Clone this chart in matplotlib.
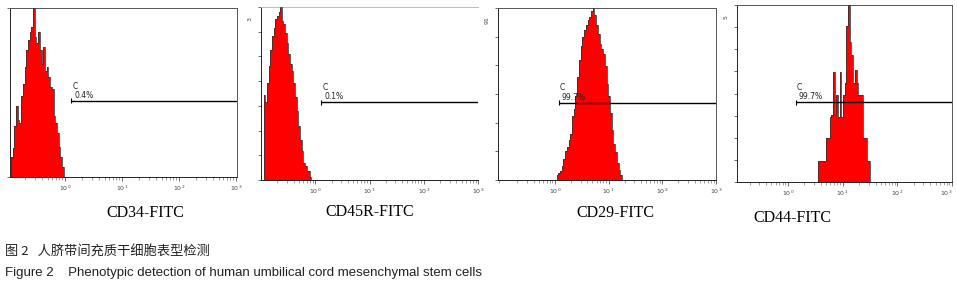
import numpy as np
import matplotlib
matplotlib.use('Agg')
import matplotlib.pyplot as plt
from matplotlib.ticker import LogLocator, FixedLocator, NullFormatter

# histogram counts per log-spaced channel (relative units)
cd34_range = (-0.95, -0.02)
cd34_counts = [12, 17, 30, 42, 34, 32, 48, 55, 65, 75, 81, 86, 89, 100, 83, 79,
               86, 75, 67, 77, 63, 65, 59, 53, 52, 36, 32, 26, 18, 12, 6]

cd45_range = (-0.95, -0.07)
cd45_counts = [49, 45, 56, 66, 75, 83, 88, 93, 95, 97, 100, 92, 90, 85, 79, 73,
               67, 63, 56, 48, 40, 31, 23, 17, 10, 8, 5, 5, 2]

cd29_range = (0.03, 1.25)
cd29_counts = [3, 4, 5, 8, 12, 17, 19, 23, 27, 37, 41, 49, 60, 70, 78, 83, 87,
               90, 93, 95, 98, 100, 96, 90, 85, 79, 76, 73, 66, 56, 49, 39, 29,
               21, 16, 10, 6, 3]

cd44_range = (0.55, 1.50)
cd44_counts = [12, 12, 12, 12, 12, 25, 25, 37, 38, 62, 38, 49, 37, 62, 37, 49,
               56, 88, 100, 79, 72, 56, 63, 56, 49, 49, 49, 25, 25, 12, 12]

markers = ["CD34-FITC", "CD45R-FITC", "CD29-FITC", "CD44-FITC"]
gate_pct = ["0.4%", "0.1%", "99.7%", "99.7%"]
gate_start = [1.3, 1.3, 1.17, 1.4]   # fluorescence where marker C begins
gate_level = 45
decade_labels = ["$10^0$", "$10^1$", "$10^2$", "$10^3$"]
decades = [1, 10, 100, 1000]

fig = plt.figure(figsize=(9.57, 2.85), dpi=100)
W, H = 957, 285

boxes = [(10, 8, 237, 177), (261, 7, 478, 180), (498, 8, 716, 180), (737, 5, 952, 182)]
xlims = [(-0.965, 3.02), (-1.0, 3.0), (-1.06, 3.0), (-0.93, 3.0)]
ytick_n = [2, 8, 7, 9]
side_lbl = [None, "3", "91", "5"]
label_pos = [(145, 213), (370, 212), (615, 213), (792, 218)]

data = [(cd34_range, cd34_counts), (cd45_range, cd45_counts),
        (cd29_range, cd29_counts), (cd44_range, cd44_counts)]

for i, ((lo, hi), counts) in enumerate(data):
    l, t, r, b = boxes[i]
    ax = fig.add_axes([l / W, 1 - b / H, (r - l) / W, (b - t) / H])
    edges = np.logspace(lo, hi, len(counts) + 1)
    ax.stairs(counts, edges, fill=True, color='#ff0000', zorder=2)
    ax.stairs(counts, edges, color='#333333', lw=0.7, alpha=0.8, zorder=3)
    ax.set_xscale('log')
    ax.set_xlim(10 ** xlims[i][0], 10 ** xlims[i][1])
    ax.set_ylim(0, 100)

    # gate marker
    ax.hlines(gate_level, gate_start[i], 10 ** xlims[i][1], color='black', lw=1.0, zorder=4)
    ax.vlines(gate_start[i], gate_level - 1.5, gate_level + 1.5, color='black', lw=0.8, zorder=4)
    ax.text(gate_start[i] * 1.03, gate_level + 6, "C", fontsize=5.5, color='#222222',
            ha='left', va='bottom', zorder=5)
    ax.text(gate_start[i] * 1.12, gate_level + 0.5, gate_pct[i], fontsize=5.5,
            color='#222222', ha='left', va='bottom', zorder=5)

    ax.xaxis.set_major_locator(FixedLocator(decades))
    ax.set_xticklabels(decade_labels, fontsize=4.5, color='#444444')
    if i == 3:
        ax.get_xticklabels()[-1].set_ha('right')
    ax.xaxis.set_minor_locator(LogLocator(base=10, subs=np.arange(2, 10)))
    ax.xaxis.set_minor_formatter(NullFormatter())
    ax.tick_params(axis='x', which='major', length=3, width=0.6, pad=1.5, color='#555555')
    ax.tick_params(axis='x', which='minor', length=2, width=0.5, color='#777777')
    ax.set_yticks(np.linspace(0, 100, ytick_n[i]))
    ax.set_yticklabels([])
    ax.tick_params(axis='y', length=2.5, width=0.6, color='#555555')

    for name, sp in ax.spines.items():
        sp.set_linewidth(0.7)
        sp.set_color('#555555' if name in ('top', 'right') else '#222222')
    if i == 1:
        ax.spines['right'].set_visible(False)
        ax.spines['top'].set_color('#bbbbbb')

    if side_lbl[i]:
        fig.text((l - 11) / W, 1 - (t + 12) / H, side_lbl[i], fontsize=4.5,
                 rotation=90, ha='center', va='center', color='#444444')

    lx, ly = label_pos[i]
    fig.text(lx / W, 1 - ly / H, markers[i], fontsize=11.5, family='Liberation Serif',
             ha='center', va='center')

fig.text(5 / W, 1 - 252 / H, "图 2   人脐带间充质干细胞表型检测", fontsize=9.5,
         family=['Noto Sans CJK SC', 'DejaVu Sans'], ha='left', va='center', color='#222222')
fig.text(5 / W, 1 - 273 / H, "Figure 2    Phenotypic detection of human umbilical cord mesenchymal stem cells",
         fontsize=9.5, family='Liberation Sans', ha='left', va='center', color='#222222')

fig.savefig('out.png', dpi=100)
